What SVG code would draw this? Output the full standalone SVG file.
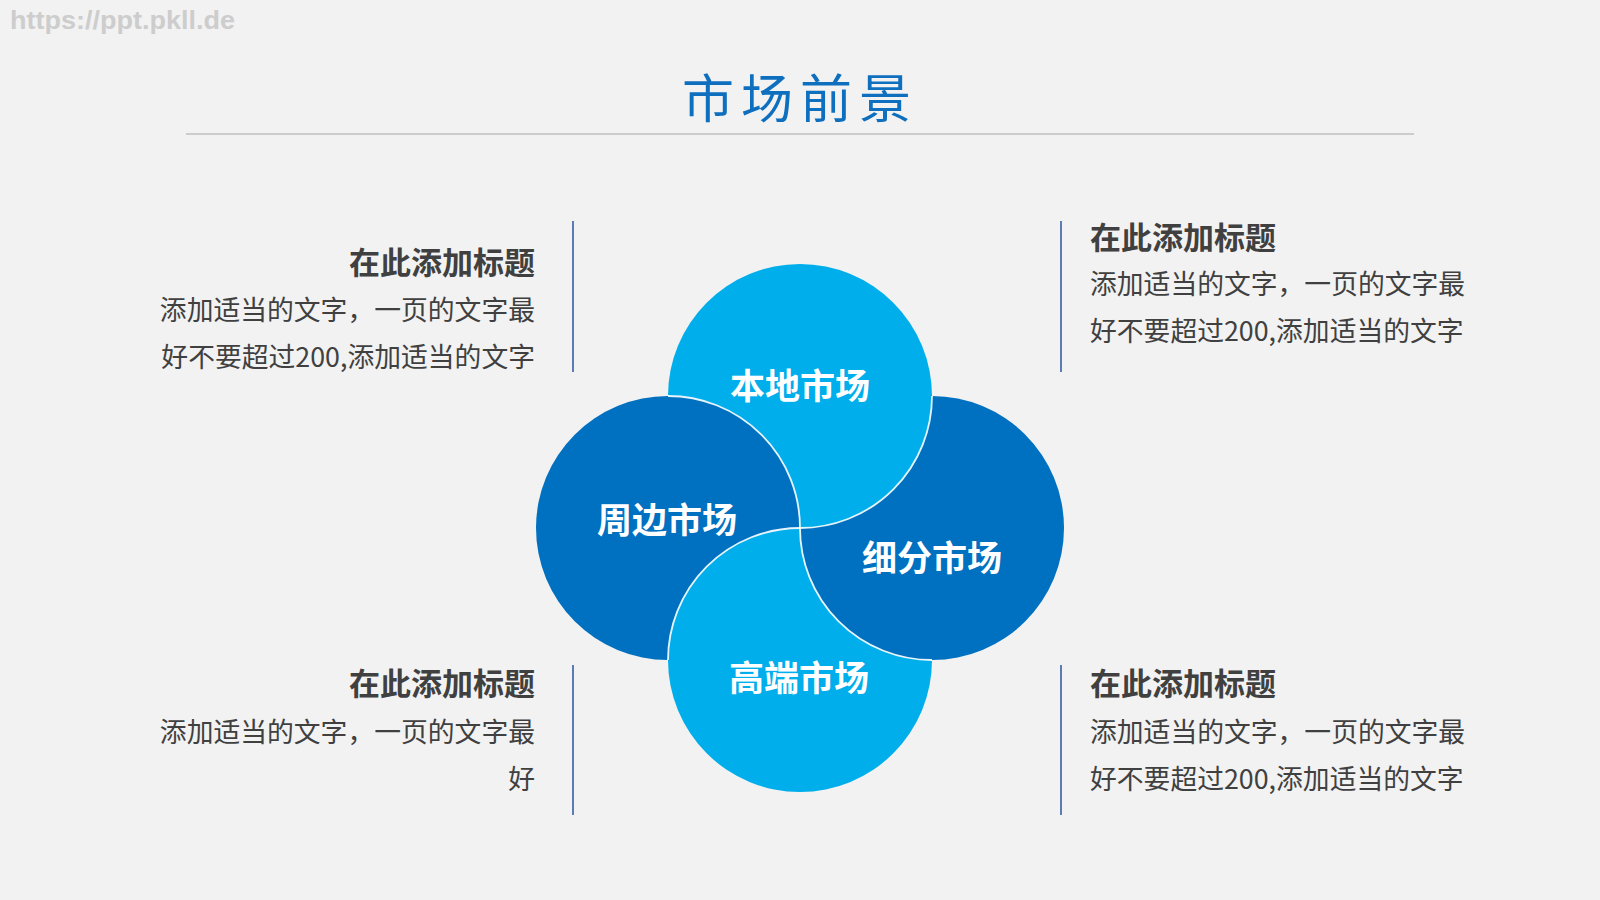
<svg xmlns="http://www.w3.org/2000/svg" width="1600" height="900" viewBox="0 0 1600 900">
<style>
.bg{fill:#F2F2F2}
.light{fill:#00AEEC}
.dark{fill:#0070C0}
.edge{fill:none;stroke:#FFFFFF;stroke-width:1.8;stroke-opacity:0.9}
.lbl{font-family:"Noto Sans CJK SC","Noto Sans",sans-serif;font-weight:700;font-size:35px;fill:#FFFFFF;text-anchor:middle}
.hd{font-family:"Noto Sans CJK SC","Noto Sans",sans-serif;font-weight:700;font-size:31px;fill:#404040}
.bd{font-family:"Noto Sans CJK SC","Noto Sans",sans-serif;font-weight:400;font-size:26.8px;fill:#404040}
.vl{stroke:#5B7DB3;stroke-width:2}
.end{text-anchor:end}
</style>
<rect class="bg" x="0" y="0" width="1600" height="900"/>
<text x="10" y="29" font-family="Liberation Sans, Arial, sans-serif" font-weight="700" font-size="25" fill="#CDCDCD" textLength="225" lengthAdjust="spacingAndGlyphs">https://ppt.pkll.de</text>
<g id="title">
<text x="682" y="118" font-family="Noto Sans CJK SC, Noto Sans, sans-serif" font-size="52" fill="#0F6FBF" letter-spacing="7">市场前景</text>
<line x1="186" y1="134" x2="1414" y2="134" stroke="#BFBFBF" stroke-width="1.5"/>
</g>
<g id="node-right"><circle class="dark" cx="932" cy="528" r="132"/></g>
<g id="node-top"><circle class="light" cx="800" cy="396" r="132"/></g>
<g id="node-left"><circle class="dark" cx="668" cy="528" r="132"/></g>
<g id="node-bottom"><path class="light" d="M800,528 A132,132 0 1 0 932,660 A132,132 0 0 1 800,528 Z"/></g>
<g id="edges">
<path class="edge" d="M668,396 A132,132 0 0 1 800,528"/>
<path class="edge" d="M932,396 A132,132 0 0 1 800,528"/>
<path class="edge" d="M800,528 A132,132 0 0 0 932,660"/>
<path class="edge" d="M668,660 A132,132 0 0 1 800,528"/>
</g>
<g id="labels">
<text class="lbl" x="800" y="399">本地市场</text>
<text class="lbl" x="667" y="533">周边市场</text>
<text class="lbl" x="932" y="571">细分市场</text>
<text class="lbl" x="799" y="691">高端市场</text>
</g>
<g id="block-top-left">
<line class="vl" x1="573" y1="221" x2="573" y2="372"/>
<text class="hd end" x="535" y="274">在此添加标题</text>
<text class="bd end" x="535" y="320">添加适当的文字，一页的文字最</text>
<text class="bd end" x="535" y="367">好不要超过200,添加适当的文字</text>
</g>
<g id="block-top-right">
<line class="vl" x1="1061" y1="221" x2="1061" y2="372"/>
<text class="hd" x="1090" y="249">在此添加标题</text>
<text class="bd" x="1090" y="294">添加适当的文字，一页的文字最</text>
<text class="bd" x="1090" y="341">好不要超过200,添加适当的文字</text>
</g>
<g id="block-bottom-left">
<line class="vl" x1="573" y1="665" x2="573" y2="815"/>
<text class="hd end" x="535" y="695">在此添加标题</text>
<text class="bd end" x="535" y="742">添加适当的文字，一页的文字最</text>
<text class="bd end" x="535" y="789">好</text>
</g>
<g id="block-bottom-right">
<line class="vl" x1="1061" y1="665" x2="1061" y2="815"/>
<text class="hd" x="1090" y="695">在此添加标题</text>
<text class="bd" x="1090" y="742">添加适当的文字，一页的文字最</text>
<text class="bd" x="1090" y="789">好不要超过200,添加适当的文字</text>
</g>
</svg>
